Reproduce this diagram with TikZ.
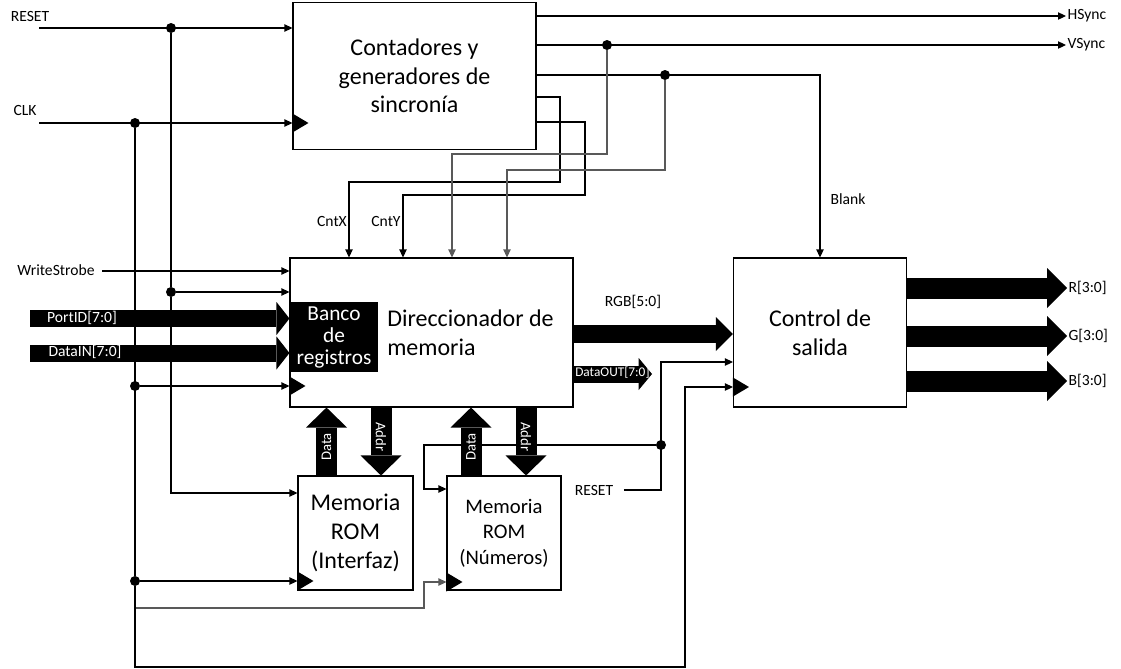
\documentclass[tikz,border=0pt]{standalone}
\usepackage{fontspec}
\setmainfont{Carlito}
\usetikzlibrary{arrows.meta,positioning}

% clock mark at the left side of a block
\newcommand{\clkmark}[1]{\fill (#1) ++(0,-9.5) -- ++(16,9.5) -- ++(-16,9.5) -- cycle;}

\tikzset{
  wire/.style={line width=0.8pt},
  gwire/.style={wire, draw=black!65},
  sig/.style={wire, -{Triangle[length=6pt,width=5.5pt]}},
  gsig/.style={sig, draw=black!65},
  dot/.style={circle, fill, inner sep=0pt, minimum size=7.5pt},
  blk/.style={draw, line width=0.8pt, inner sep=0pt, align=center},
  lbl/.style={inner sep=1pt, font=\fontsize{11.7}{13}\selectfont},
  wlbl/.style={lbl, text=white},
  big/.style={font=\fontsize{18}{21.5}\selectfont},
  mid/.style={font=\fontsize{15.5}{19}\selectfont},
  busIn/.style={line width=12.75pt, -{Triangle[length=9.75pt,width=24.75pt,line width=0pt]}},
  busRGB/.style={line width=13.5pt, -{Triangle[length=12.75pt,width=25.5pt,line width=0pt]}},
  busDo/.style={line width=12.75pt, -{Triangle[length=10pt,width=24pt,line width=0pt]}},
  busOut/.style={line width=15.75pt, -{Triangle[length=15pt,width=30pt,line width=0pt]}},
  busV/.style={line width=15.75pt, -{Triangle[length=15pt,width=30.75pt,line width=0pt]}}
}

\begin{document}
\begin{tikzpicture}[x=0.75pt,y=-0.75pt]
\useasboundingbox (0,0) rectangle (1121,668);

% blocks
\node[blk, big, minimum width=182.25pt, minimum height=110.25pt] (cont) at (414.5,76) {Contadores y\\generadores de\\sincronía};
\node[blk, minimum width=212.25pt, minimum height=111.75pt] (dir) at (431.5,332.5) {};
\node[big, align=left, anchor=west, inner sep=0pt] (dirtxt) at (387,333) {Direccionador de\\memoria};
\node[fill, text=white, inner sep=0pt, minimum width=66pt, minimum height=52.5pt, align=center,
      font=\fontsize{16}{16.5}\selectfont] (banco) at (334,337) {Banco\\de\\registros};
\node[blk, big, minimum width=129.75pt, minimum height=111.75pt] (ctrl) at (820,332.5) {Control de\\salida};
\node[blk, big, minimum width=86.25pt, minimum height=85.5pt] (romI) at (355.5,533) {Memoria\\ROM\\(Interfaz)};
\node[blk, mid, minimum width=85.5pt, minimum height=85.5pt] (romN) at (504,533) {Memoria\\ROM\\(Números)};

% inputs on the left
\node[lbl] (rstlbl) at (30,16) {RESET};
\node[lbl] (clklbl) at (25,110) {CLK};
\node[lbl] (wslbl) at (56,270) {WriteStrobe};
\coordinate (rst0) at (39,28);
\coordinate (clk0) at (39,123);
\node[dot] (d1) at (171,28) {};
\node[dot] (d2) at (135,123) {};
\node[dot] (d3) at (171,292) {};
\node[dot] (d4) at (135,386) {};
\node[dot] (d5) at (135,581) {};

\draw[sig] (rst0) -- (rst0 -| cont.west);
\draw[sig] (clk0) -- (clk0 -| cont.west);
\clkmark{cont.west |- clk0}
\draw[sig] (wslbl.east) ++(6,1) -- (dir.west |- 0,271);
\draw[sig] (d3) -- (d3 -| dir.west);
\draw[sig] (d4) -- (d4 -| dir.west);
\clkmark{dir.west |- d4}
\draw[wire] (d1) -- (d3);
\draw[sig] (d3) |- (romI.west |- 0,493);
\draw[wire] (d2) -- (d5);
\draw[sig] (d5) -- (d5 -| romI.west);
\clkmark{romI.west |- d5}
\draw[gsig] ([xshift=3pt]d5) |- (424,608) |- (romN.west |- 0,582);
\clkmark{romN.west |- 0,582}
\draw[sig] (d5) |- (685,667) |- (ctrl.west |- 0,387);
\clkmark{ctrl.west |- 0,387}

% buses into the memory addresser
\coordinate (pid) at (30,318.5);
\coordinate (din) at (30,353);
\draw[busIn] (pid) -- (pid -| dir.west);
\draw[busIn] (din) -- (din -| dir.west);
\node[wlbl] (pidlbl) at (82,318) {PortID[7:0]};
\node[wlbl] (dinlbl) at (85,352) {DataIN[7:0]};

% outputs of the counters
\node[lbl, anchor=west] (hs) at (1066,16) {HSync};
\node[lbl, anchor=west] (vs) at (1066,45) {VSync};
\node[dot] (d6) at (607,45) {};
\node[dot] (d7) at (665,75) {};
\draw[sig] (cont.east |- hs) -- (hs.west);
\draw[sig] (cont.east |- vs) -- (vs.west);
\draw[sig] (cont.east |- 0,75) -| (ctrl.north);
\node[lbl] (blank) at (848,199) {Blank};
\draw[sig] (cont.east |- 0,97) -| (560,182) -| (349,0 |- dir.north);
\draw[sig] (cont.east |- 0,122) -| (585,195) -| (403,0 |- dir.north);
\draw[gsig] (d6) |- (452,154) -- (452,0 |- dir.north);
\draw[gsig] (d7) |- (507,170) -- (507,0 |- dir.north);
\node[lbl] (cx) at (332,221) {CntX};
\node[lbl] (cy) at (386,221) {CntY};

% reset of the number ROM and the output control
\node[lbl] (rst2) at (594,490) {RESET};
\node[dot] (d8) at (661,445) {};
\draw[sig] (rst2.east) ++(9,0) -| (661,362) -- (ctrl.west |- 0,362);
\draw[sig] (d8) -| (424,489) -- (romN.west |- 0,489);

% data and address between addresser and ROMs
\coordinate (dI) at (326.5,447);
\coordinate (aI) at (381,437);
\coordinate (dN) at (471,447);
\coordinate (aN) at (526,437);
\draw[busV] (romI.north -| dI) -- (dir.south -| dI);
\draw[busV] (dir.south -| aI) -- (romI.north -| aI);
\draw[busV] (romN.north -| dN) -- (dir.south -| dN);
\draw[busV] (dir.south -| aN) -- (romN.north -| aN);
\node[wlbl, rotate=90, font=\fontsize{11}{12}\selectfont] at (dI) {Data};
\node[wlbl, rotate=-90, font=\fontsize{11}{12}\selectfont] at (aI) {Addr};
\node[wlbl, rotate=90, font=\fontsize{11}{12}\selectfont] at (dN) {Data};
\node[wlbl, rotate=-90, font=\fontsize{11}{12}\selectfont] at (aN) {Addr};

% RGB, DataOUT and colour outputs
\coordinate (rgb) at (dir.east |- 0,334);
\draw[busRGB] (rgb) -- (rgb -| ctrl.west);
\node[lbl] (rgblbl) at (633,302) {RGB[5:0]};
\coordinate (dout) at (652,374);
\draw[busDo] (dout -| dir.east) -- (dout);
\node[wlbl, font=\fontsize{10}{11}\selectfont, anchor=west, inner sep=0pt] (doutlbl) at (575,373) {DataOUT[7:0]};
\node[lbl, anchor=west] (rout) at (1067,288) {R[3:0]};
\node[lbl, anchor=west] (gout) at (1067,336) {G[3:0]};
\node[lbl, anchor=west] (bout) at (1067,381) {B[3:0]};
\draw[busOut] (ctrl.east |- rout) -- (rout.west);
\draw[busOut] (ctrl.east |- gout) -- (gout.west);
\draw[busOut] (ctrl.east |- bout) -- (bout.west);
\end{tikzpicture}
\end{document}
